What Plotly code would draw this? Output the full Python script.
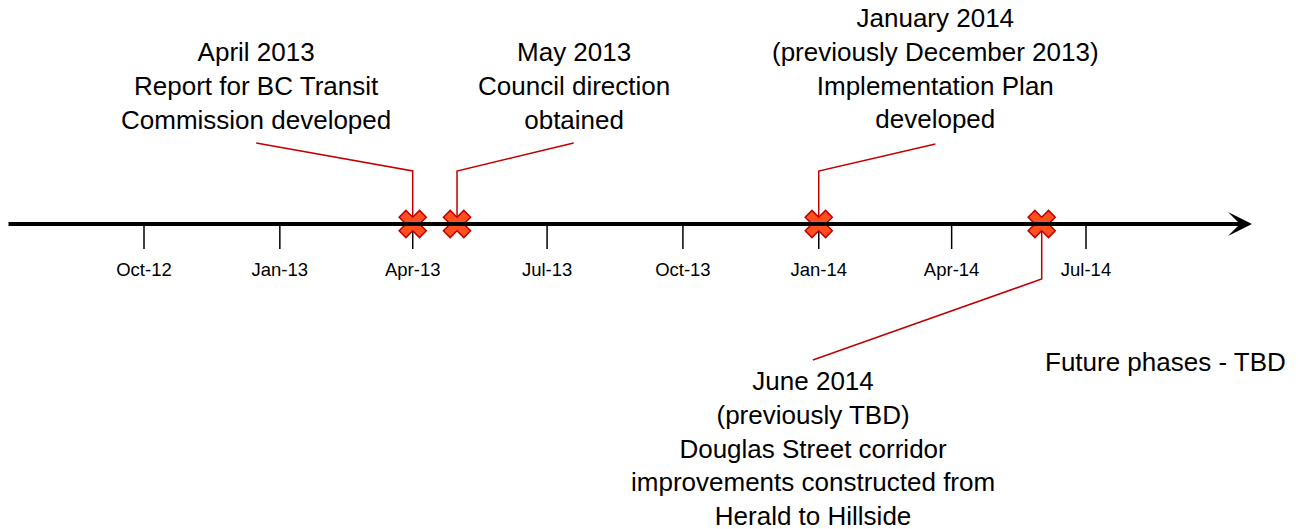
import pandas as pd
import plotly.graph_objects as go

# ---- data ----
tick_dates = ["2012-10-01", "2013-01-01", "2013-04-01", "2013-07-01",
              "2013-10-01", "2014-01-01", "2014-04-01", "2014-07-01"]
tick_labels = ["Oct-12", "Jan-13", "Apr-13", "Jul-13",
               "Oct-13", "Jan-14", "Apr-14", "Jul-14"]

event_dates = ["2013-04-01", "2013-05-01", "2014-01-01", "2014-06-01"]
event_texts = [
    "April 2013<br>Report for BC Transit<br>Commission developed",
    "May 2013<br>Council direction<br>obtained",
    "January 2014<br>(previously December 2013)<br>Implementation Plan<br>developed",
    "June 2014<br>(previously TBD)<br>Douglas Street corridor<br>improvements constructed from<br>Herald to Hillside",
]
# label anchor dates (horizontal centre of each text block)
label_dates = ["2012-12-16", "2013-07-19", "2014-03-21", "2013-12-28"]
future_text = "Future phases - TBD"
future_date = "2014-08-24"

# ---- layout geometry ----
PAGE_OFF = 8                       # page body margin
W, H = 1302 - PAGE_OFF, 529 - PAGE_OFF
axis_px = 224 - PAGE_OFF           # axis line, pixels from figure top
origin = pd.Timestamp("2012-10-01")
px_origin = 144 - PAGE_OFF
px_per_day = (1086 - 144) / (pd.Timestamp("2014-07-01") - origin).days

def px_to_date(px):
    # px given in reference-image pixels
    return origin + pd.Timedelta(days=(px - PAGE_OFF - px_origin) / px_per_day)

x_range = [origin + pd.Timedelta(days=-px_origin / px_per_day),
           origin + pd.Timedelta(days=(W - px_origin) / px_per_day)]
y_range = [axis_px - H, axis_px]   # 1 unit = 1 px, 0 = axis line

def y_of(px):
    # px given in reference-image pixels
    return axis_px - (px - PAGE_OFF)

# label block vertical centres (px) and leader geometry
label_center_px = [85.5, 85.5, 68.5, 448]
leader_label_end_px = [143, 143, 144, 360]
leader_elbow_px = [171, 171, 171, 279]

RED = "#C00000"
FONT = "Liberation Sans, Arial"

fig = go.Figure()

# leader lines
for i, d in enumerate(event_dates):
    fig.add_trace(go.Scatter(
        x=[label_dates[i], d, d],
        y=[y_of(leader_label_end_px[i]), y_of(leader_elbow_px[i]), 0],
        mode="lines", line=dict(color=RED, width=1.5),
        hoverinfo="skip", showlegend=False))

# tick marks
tx, ty = [], []
for d in tick_dates:
    tx += [d, d, None]
    ty += [0, -25, None]
fig.add_trace(go.Scatter(x=tx, y=ty, mode="lines",
                         line=dict(color="black", width=1.5),
                         hoverinfo="skip", showlegend=False))

# tick labels
fig.add_trace(go.Scatter(
    x=tick_dates, y=[y_of(271)] * len(tick_dates), mode="text",
    text=tick_labels, textposition="middle center",
    textfont=dict(family=FONT, size=18.5, color="black"),
    hoverinfo="skip", showlegend=False))

# axis line with arrow
fig.add_annotation(
    x=px_to_date(1252), y=0, ax=px_to_date(7), ay=0,
    xref="x", yref="y", axref="x", ayref="y",
    text="", showarrow=True, arrowhead=3, arrowsize=1.0,
    arrowwidth=4, arrowcolor="black")

# event markers
fig.add_trace(go.Scatter(
    x=event_dates, y=[0] * len(event_dates), mode="markers",
    marker=dict(symbol="x", size=24, color="#FF4F1F",
                line=dict(color=RED, width=1.5)),
    hoverinfo="skip", showlegend=False))

# event labels
for i, t in enumerate(event_texts):
    fig.add_annotation(
        x=label_dates[i], y=y_of(label_center_px[i]), xref="x", yref="y",
        text=t, showarrow=False, xanchor="center", yanchor="middle",
        align="center",
        font=dict(family=FONT, size=26, color="black"))

fig.add_annotation(
    x=future_date, y=y_of(362), xref="x", yref="y",
    text=future_text, showarrow=False, xanchor="center", yanchor="middle",
    font=dict(family=FONT, size=26, color="black"))

fig.update_layout(
    width=W, height=H,
    margin=dict(l=0, r=0, t=0, b=0),
    paper_bgcolor="white", plot_bgcolor="white",
    xaxis=dict(type="date", range=x_range, visible=False, fixedrange=True),
    yaxis=dict(range=y_range, visible=False, fixedrange=True),
    showlegend=False,
)

fig.write_html("out.html")
